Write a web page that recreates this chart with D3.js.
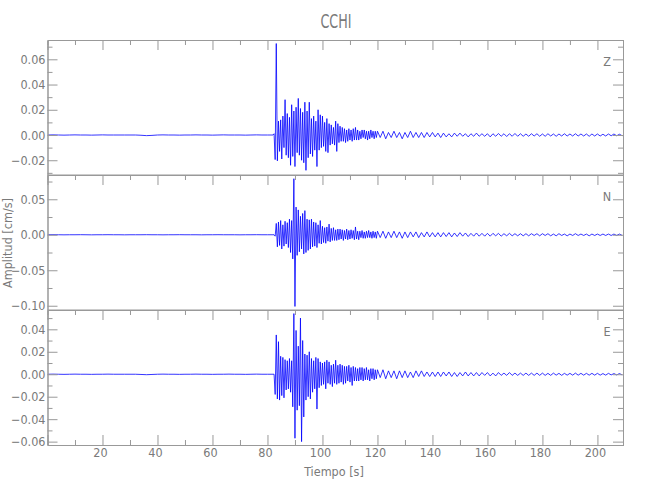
<!DOCTYPE html>
<html><head><meta charset="utf-8">
<script src="https://cdn.jsdelivr.net/npm/d3@7"></script>
<style>body{margin:0;background:#fff} svg{display:block}</style>
</head><body><svg id="c" width="650" height="500"></svg>
<script>
const title = "CCHI";
const components = ["Z", "N", "E"];
const xLabel = "Tiempo [s]";
const yLabel = "Amplitud [cm/s]";
const xTicks = [20, 40, 60, 80, 100, 120, 140, 160, 180, 200];
const xMinorTicks = [10, 30, 50, 70, 90, 110, 130, 150, 170, 190];
const zTicks = [-0.02, 0.00, 0.02, 0.04, 0.06];
const zMinorTicks = [-0.03, -0.01, 0.01, 0.03, 0.05, 0.07];
const nTicks = [-0.10, -0.05, 0.00, 0.05];
const nMinorTicks = [-0.075, -0.025, 0.025, 0.075];
const eTicks = [-0.06, -0.04, -0.02, 0.00, 0.02, 0.04];
const eMinorTicks = [-0.05, -0.03, -0.01, 0.01, 0.03, 0.05];
const zDomain = [-0.0317, 0.0753];
const nDomain = [-0.106, 0.0842];
const eDomain = [-0.063, 0.0572];

// sampling segments (start time, step in s)
const preStart = 0, preStep = 2;
const mainStart = 82.4, mainStep = 0.4;
const codaStart = 120, codaStep = 1;

// pre-event noise (0..82 s)
const zPre = [0,0.0001,0,-0.0001,0,0.0001,0,0,-0.0001,0,0.0001,0,0,0,0,0,0,-0.0002,-0.0005,-0.0003,0,0.0001,0,0,-0.0001,0,0,0.0001,0,0,-0.0001,0,0.0001,0,0,0,-0.0001,0,0.0001,0,0,0];
const nPre = [0,0.0001,0,-0.0001,0,0,0.0001,0,-0.0001,0,0,0.0001,0,0,-0.0001,0,0,0,0.0001,0,0,-0.0001,0,0,0.0001,0,0,0,-0.0001,0,0,0.0001,0,0,0,-0.0001,0,0,0.0001,0,0,0];
const ePre = [0,0.0001,0,-0.0001,0,0.0001,0,0,-0.0001,0,0,0.0001,0,0,0,0,0,-0.0002,-0.0004,-0.0002,0,0.0001,0,0,-0.0001,0,0,0.0001,0,0,-0.0001,0,0,0.0001,0,0,-0.0001,0,0.0001,0,0,0];

// main shaking (82.4..119.6 s)
const zMain = [0.001,-0.0195,0.0725,-0.0205,0.011,-0.013,0.012,-0.019,0.015,-0.010,
0.028,-0.016,0.017,-0.018,0.014,-0.024,0.024,-0.017,0.019,-0.025,
0.022,-0.014,0.029,-0.016,0.021,-0.020,0.018,-0.022,0.026,-0.028,
0.019,-0.018,0.026,-0.015,0.013,-0.017,0.015,-0.012,0.011,-0.025,
0.020,-0.012,0.016,-0.010,0.015,-0.009,0.010,-0.013,0.013,-0.014,
0.009,-0.008,0.008,-0.007,0.006,-0.008,0.011,-0.013,0.009,-0.006,
0.007,-0.005,0.006,-0.005,0.005,-0.006,0.004,-0.005,0.005,-0.004,
0.004,-0.005,0.005,-0.004,0.006,-0.004,0.004,-0.004,0.003,-0.003,
0.004,-0.002,0.004,-0.003,0.003,-0.004,0.003,-0.003,0.004,-0.002,
0.003,-0.003,0.003,-0.002];
const nMain = [0.000,-0.002,0.016,-0.017,0.018,-0.015,0.020,-0.020,0.014,-0.016,
0.019,-0.013,0.017,-0.018,0.022,-0.025,0.020,-0.034,0.079,-0.101,
0.039,-0.029,0.035,-0.024,0.026,-0.020,0.030,-0.027,0.034,-0.025,
0.022,-0.022,0.021,-0.020,0.022,-0.017,0.018,-0.016,0.017,-0.018,
0.014,-0.012,0.020,-0.013,0.012,-0.011,0.010,-0.012,0.011,-0.009,
0.015,-0.010,0.009,-0.008,0.010,-0.008,0.007,-0.008,0.008,-0.007,
0.008,-0.006,0.007,-0.008,0.006,-0.006,0.008,-0.007,0.006,-0.006,
0.007,-0.005,0.006,-0.007,0.011,-0.006,0.005,-0.007,0.005,-0.004,
0.006,-0.005,0.004,-0.005,0.005,-0.004,0.006,-0.004,0.004,-0.005,
0.005,-0.004,0.004,-0.005];
const eMain = [0.000,-0.018,0.035,-0.022,0.029,-0.023,0.016,-0.019,0.015,-0.021,
0.013,-0.014,0.012,-0.013,0.014,-0.016,0.012,-0.029,0.054,-0.057,
0.039,-0.032,0.025,-0.028,0.050,-0.060,0.030,-0.038,0.018,-0.023,
0.017,-0.020,0.020,-0.022,0.014,-0.016,0.012,-0.013,0.015,-0.031,
0.014,-0.012,0.011,-0.010,0.010,-0.009,0.011,-0.013,0.0125,-0.008,
0.011,-0.009,0.008,-0.011,0.009,-0.008,0.0125,-0.009,0.008,-0.008,
0.009,-0.007,0.008,-0.009,0.007,-0.008,0.007,-0.006,0.008,-0.007,
0.006,-0.010,0.007,-0.006,0.006,-0.006,0.005,-0.006,0.006,-0.005,
0.006,-0.006,0.005,-0.005,0.006,-0.005,0.004,-0.006,0.005,-0.004,
0.005,-0.005,0.004,-0.004];

// coda (120..209 s)
const zCoda = [0.003,-0.002,0.003,-0.003,0.002,-0.002,0.003,-0.002,0.002,-0.003,
0.002,-0.002,0.003,-0.002,0.002,-0.002,0.002,-0.002,0.002,-0.0015,
0.002,-0.0015,0.0015,-0.002,0.0015,-0.0015,0.001,-0.0015,0.0015,-0.001,
0.0015,-0.001,0.001,-0.0015,0.001,-0.001,0.0015,-0.001,0.001,-0.001,
0.001,-0.0015,0.001,-0.001,0.0012,-0.001,0.001,-0.0012,0.001,-0.001,
0.0012,-0.001,0.001,-0.001,0.0008,-0.001,0.001,-0.0008,0.001,-0.001,
0.0008,-0.001,0.001,-0.0008,0.0008,-0.001,0.0008,-0.0008,0.001,-0.0008,
0.0008,-0.0008,0.001,-0.0008,0.0008,-0.0008,0.0008,-0.001,0.0008,-0.0008,
0.0008,-0.0008,0.0006,-0.0008,0.0008,-0.0006,0.0008,-0.0006,0.0006,-0.0006];
const nCoda = [0.005,-0.004,0.005,-0.005,0.004,-0.004,0.005,-0.004,0.004,-0.005,
0.004,-0.004,0.004,-0.003,0.004,-0.004,0.003,-0.003,0.004,-0.003,
0.003,-0.003,0.003,-0.003,0.003,-0.0025,0.003,-0.003,0.0025,-0.0025,
0.003,-0.002,0.0025,-0.0025,0.002,-0.002,0.0025,-0.002,0.002,-0.002,
0.002,-0.002,0.002,-0.0015,0.002,-0.002,0.0015,-0.0015,0.002,-0.0015,
0.0015,-0.0015,0.0015,-0.0015,0.0015,-0.0015,0.0015,-0.001,0.0015,-0.0015,
0.0015,-0.001,0.0015,-0.0015,0.001,-0.0015,0.0015,-0.001,0.001,-0.0015,
0.001,-0.001,0.0015,-0.001,0.001,-0.001,0.001,-0.0015,0.001,-0.001,
0.001,-0.001,0.001,-0.001,0.001,-0.001,0.001,-0.001,0.001,-0.001];
const eCoda = [0.004,-0.003,0.004,-0.004,0.003,-0.003,0.003,-0.004,0.003,-0.003,
0.003,-0.003,0.002,-0.003,0.003,-0.002,0.003,-0.002,0.002,-0.002,
0.002,-0.002,0.002,-0.002,0.002,-0.0015,0.002,-0.002,0.0015,-0.002,
0.0015,-0.0015,0.002,-0.0015,0.0015,-0.0015,0.0015,-0.0015,0.0015,-0.001,
0.0015,-0.0015,0.001,-0.0015,0.0015,-0.001,0.001,-0.001,0.0015,-0.001,
0.001,-0.001,0.001,-0.001,0.001,-0.001,0.001,-0.001,0.001,-0.001,
0.001,-0.001,0.0008,-0.001,0.001,-0.0008,0.0008,-0.001,0.0008,-0.0008,
0.0008,-0.0008,0.001,-0.0008,0.0008,-0.0008,0.0008,-0.0008,0.0008,-0.0008,
0.0008,-0.0008,0.0006,-0.0008,0.0008,-0.0006,0.0006,-0.0006,0.0006,-0.0006];

function buildSeries(pre, main, coda) {
  const pts = [];
  pre.forEach((v, i) => pts.push([preStart + i * preStep, v]));
  main.forEach((v, i) => pts.push([mainStart + i * mainStep, v]));
  coda.forEach((v, i) => pts.push([codaStart + i * codaStep, v]));
  return pts;
}

const panels = [
  {name: components[0], data: buildSeries(zPre, zMain, zCoda), domain: zDomain, ticks: zTicks, minor: zMinorTicks},
  {name: components[1], data: buildSeries(nPre, nMain, nCoda), domain: nDomain, ticks: nTicks, minor: nMinorTicks},
  {name: components[2], data: buildSeries(ePre, eMain, eCoda), domain: eDomain, ticks: eTicks, minor: eMinorTicks}
];

const svg = d3.select("#c");
const left = 47.5, right = 623, top0 = 40, ph = 135;
const FONT = "'Liberation Sans Narrow','DejaVu Sans Condensed','Liberation Sans',sans-serif";
const AX = "#999999", TX = "#7a7a7a";

const x = d3.scaleLinear().domain([0, 209.3]).range([left, right]);
const fmt = d3.format(".2f");

svg.append("text").attr("x", 336).attr("y", 28).attr("text-anchor", "middle")
  .attr("font-family", FONT).attr("font-size", 19).attr("fill", TX)
  .attr("textLength", 31).attr("lengthAdjust", "spacingAndGlyphs").text(title);

panels.forEach((p, k) => {
  const t = top0 + k * ph;
  const y = d3.scaleLinear().domain(p.domain).range([t + ph, t]);
  const g = svg.append("g");
  g.append("clipPath").attr("id", "clip" + k).append("rect")
    .attr("x", left).attr("y", t).attr("width", right - left).attr("height", ph);

  const line = d3.line().x(d => x(d[0])).y(d => y(d[1]));
  g.append("path").datum(p.data).attr("clip-path", `url(#clip${k})`)
    .attr("d", line).attr("fill", "none").attr("stroke", "#0000ff")
    .attr("stroke-width", 0.8).attr("stroke-linejoin", "miter");

  const style = sel => {
    sel.select(".domain").attr("stroke", AX);
    sel.selectAll(".tick line").attr("stroke", AX);
    sel.selectAll(".tick text").attr("fill", TX).attr("font-family", FONT).attr("font-size", 12.5);
  };
  // left axis
  g.append("g").attr("transform", `translate(${left},0)`)
    .call(d3.axisLeft(y).tickValues(p.ticks).tickSize(-10).tickPadding(2).tickFormat(fmt)).call(style);
  g.append("g").attr("transform", `translate(${left},0)`)
    .call(d3.axisLeft(y).tickValues(p.minor).tickSize(-5).tickFormat("")).call(style);
  // right axis
  g.append("g").attr("transform", `translate(${right},0)`)
    .call(d3.axisRight(y).tickValues(p.ticks).tickSize(-10).tickFormat("")).call(style);
  g.append("g").attr("transform", `translate(${right},0)`)
    .call(d3.axisRight(y).tickValues(p.minor).tickSize(-5).tickFormat("")).call(style);
  // top axis of each panel
  g.append("g").attr("transform", `translate(0,${t})`)
    .call(d3.axisTop(x).tickValues(xTicks).tickSize(-10).tickFormat("")).call(style);
  g.append("g").attr("transform", `translate(0,${t})`)
    .call(d3.axisTop(x).tickValues(xMinorTicks).tickSize(-5).tickFormat("")).call(style);
  if (k === panels.length - 1) {
    g.append("g").attr("transform", `translate(0,${t + ph})`)
      .call(d3.axisBottom(x).tickValues(xTicks).tickSize(-10).tickPadding(3).tickFormat(d3.format("d"))).call(style)
      .selectAll(".tick text").attr("dx", -2.5);
    g.append("g").attr("transform", `translate(0,${t + ph})`)
      .call(d3.axisBottom(x).tickValues(xMinorTicks).tickSize(-5).tickFormat("")).call(style);
  } else {
    g.append("line").attr("x1", left).attr("x2", right).attr("y1", t + ph).attr("y2", t + ph).attr("stroke", AX);
  }
  g.append("text").attr("x", 607).attr("y", t + 26).attr("text-anchor", "middle")
    .attr("font-family", FONT).attr("font-size", 12.5).attr("fill", TX).text(p.name);
});

svg.append("text").attr("transform", "translate(12,243) rotate(-90)").attr("text-anchor", "middle")
  .attr("font-family", FONT).attr("font-size", 12.5).attr("fill", TX).text(yLabel);
svg.append("text").attr("x", 334).attr("y", 476).attr("text-anchor", "middle")
  .attr("font-family", FONT).attr("font-size", 12.5).attr("fill", TX).text(xLabel);
</script></body></html>
